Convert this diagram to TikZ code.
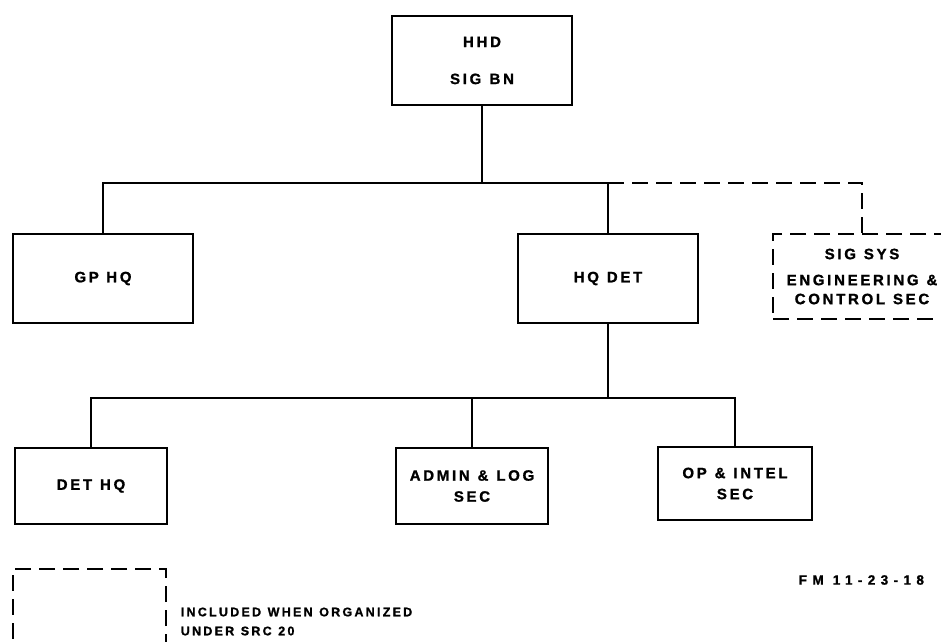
\documentclass[tikz,border=0pt]{standalone}
\usepackage{fontspec}
\newfontfamily\lbl{Liberation Sans Bold}[LetterSpace=18,FakeBold=1.2,WordSpace=1.15]
\newfontfamily\lblwide{Liberation Sans Bold}[LetterSpace=40,FakeBold=1.2]
\begin{document}
\begin{tikzpicture}[x=1pt,y=-1pt,line width=1.6pt,
  box/.style={draw,rectangle,align=center,inner sep=0pt,
    font=\lbl\fontsize{15}{21}\selectfont},
  dashline/.style={dash pattern=on 16pt off 8pt},
  dbox/.style={box,dashline},
  note/.style={inner sep=0pt,anchor=west,font=\lbl\fontsize{12.5}{14}\selectfont}]
\clip (0,0) rectangle (941,641);
\fill[white] (0,0) rectangle (941,641);
% boxes
\node[box,minimum width=180pt,minimum height=89pt] (hhd) at (482,60.5)
  {HHD\\[16pt]SIG\hspace{0.55em}BN};
\node[box,minimum width=180pt,minimum height=89pt] (gphq) at (103,278.5) {GP\hspace{0.5em}HQ};
\node[box,minimum width=180pt,minimum height=89pt] (hqdet) at (608,278.5) {HQ DET};
\node[dbox,minimum width=178pt,minimum height=85pt,
  font=\lbl\fontsize{15}{19}\selectfont] (sigsys) at (862,276.5)
  {SIG SYS\\[7pt]ENGINEERING \&\\CONTROL SEC};
\node[box,minimum width=152pt,minimum height=76pt] (dethq) at (91,486) {DET HQ};
\node[box,minimum width=152pt,minimum height=76pt] (admin) at (472,486) {ADMIN \& LOG\\SEC};
\node[box,minimum width=154pt,minimum height=73pt] (opintel) at (735,483.5) {OP \& INTEL\\SEC};
% connectors
\coordinate (bus1) at (482,183);
\coordinate (bus2) at (608,398);
\draw (hhd.south) -- (bus1);
\draw (gphq.north) |- (bus1) -| (hqdet.north);
\draw[dashline] (hqdet.north |- bus1) -| (sigsys.north);
\draw (hqdet.south) -- (bus2);
\draw (dethq.north) |- (bus2) -| (opintel.north);
\draw (admin.north) -- (admin.north |- bus2);
% legend
\node[draw,dashline,rectangle,inner sep=0pt,minimum width=153pt,minimum height=120pt] (legend) at (89.5,629) {};
\node[note] (incl) at (180,612) {INCLUDED WHEN ORGANIZED};
\node[note] (src) at (180,631) {UNDER SRC 20};
\node[inner sep=0pt,anchor=west,font=\lblwide\fontsize{13.5}{14}\selectfont] (fm) at (798,580) {FM 11-23-18};
\end{tikzpicture}
\end{document}
